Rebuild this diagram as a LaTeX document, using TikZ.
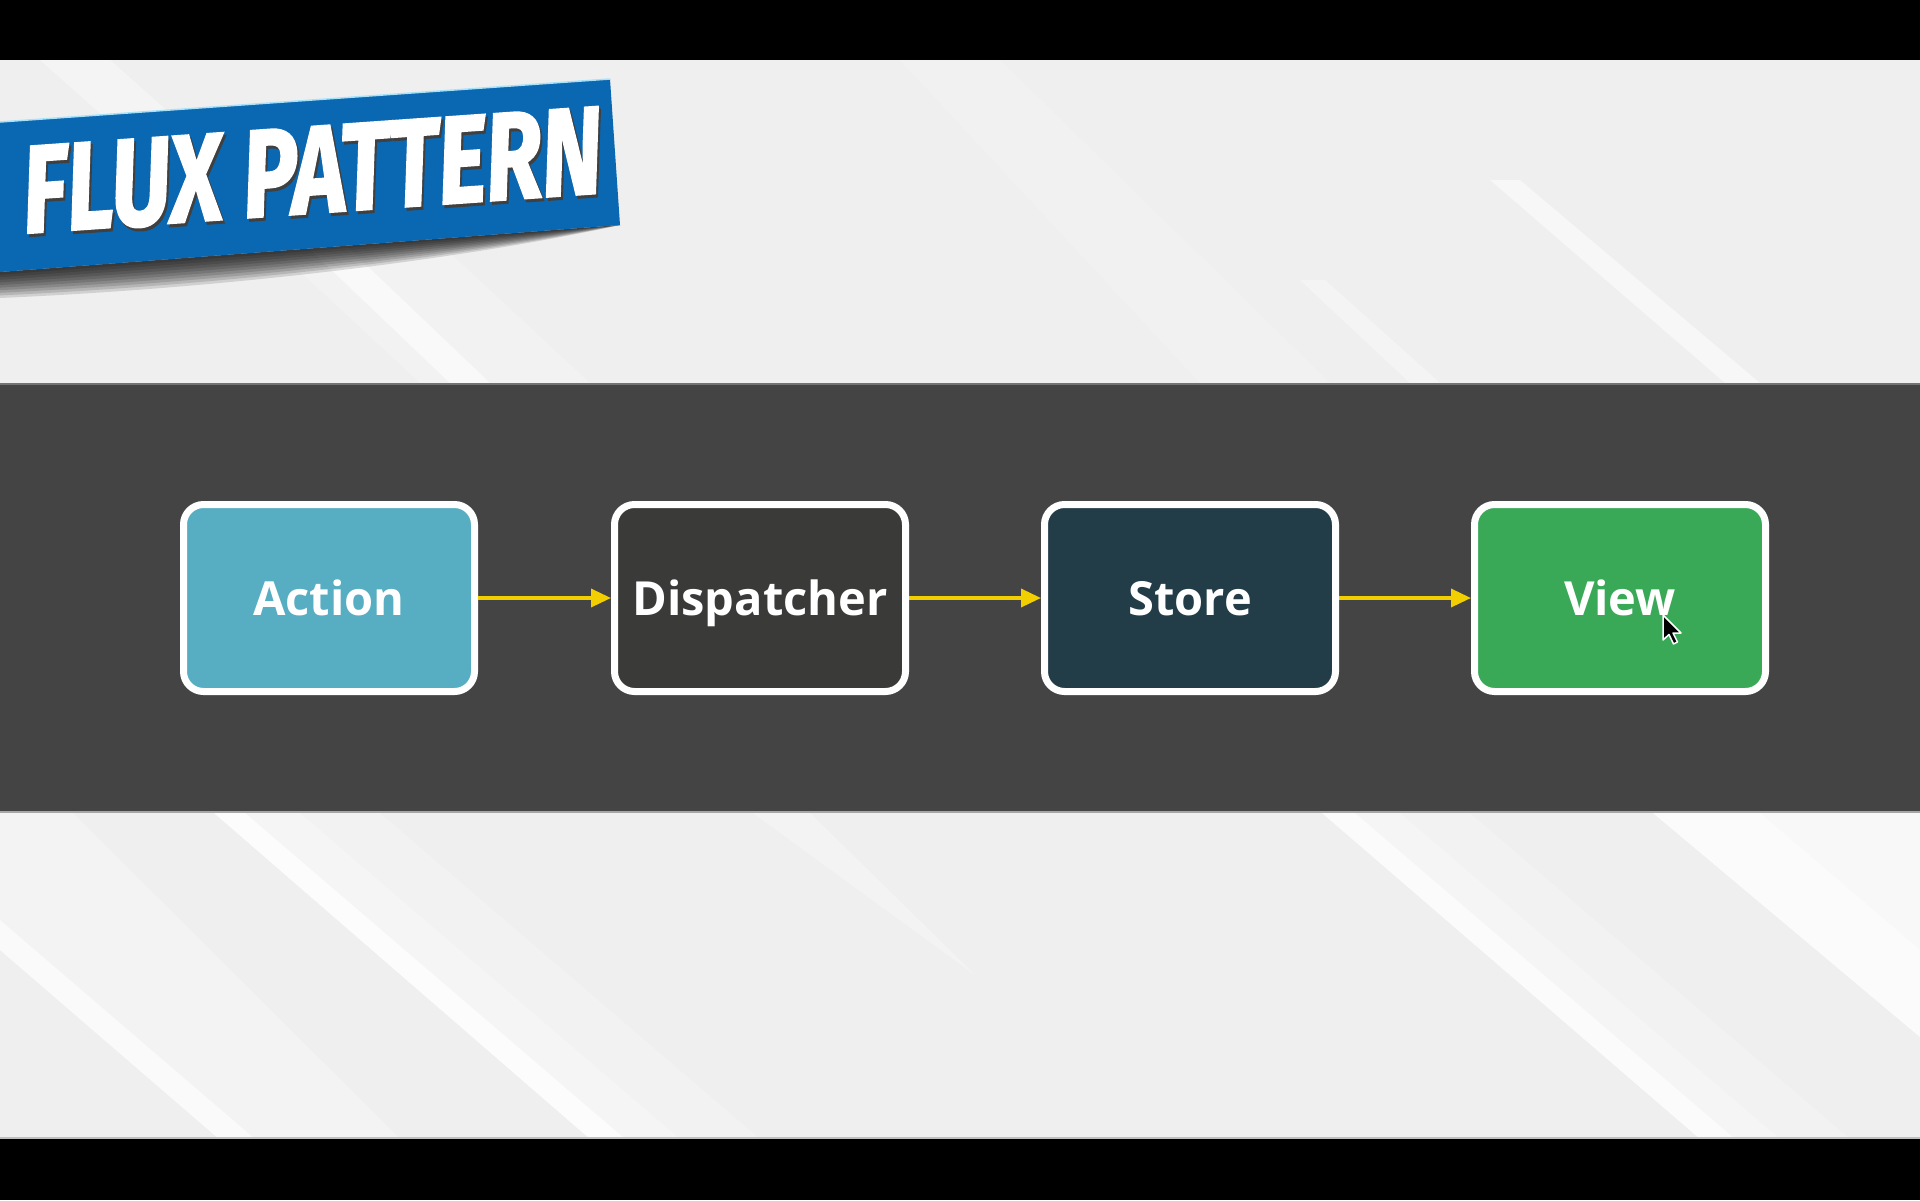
\documentclass[tikz,border=0pt]{standalone}
\usepackage{fontspec}
\usepackage{graphicx}
\usetikzlibrary{arrows.meta}
\newfontfamily\labelfont{Open Sans}
\newfontfamily\bannerfont{Fira Sans}[BoldItalicFeatures={FakeBold=2}]
\definecolor{pagebg}{HTML}{EFEFEF}
\definecolor{bandgray}{HTML}{444444}
\definecolor{bannerblue}{HTML}{0A67B1}
\definecolor{flowyellow}{HTML}{F2CF00}
\definecolor{actionfill}{HTML}{57ADC1}
\definecolor{dispatchfill}{HTML}{3A3A39}
\definecolor{storefill}{HTML}{223C48}
\definecolor{viewfill}{HTML}{39A958}
\tikzset{
  fluxbox/.style={draw=white, line width=7pt, rounded corners=20pt,
    minimum width=291pt, minimum height=187pt, inner sep=0pt,
    text=white, font=\labelfont\bfseries\fontsize{47pt}{50pt}\selectfont,
    text height=34pt, text depth=0pt},
  fluxarrow/.style={draw=flowyellow, line width=3.5pt,
    -{Triangle[length=20pt,width=18pt]}},
  streak/.style={fill=white, opacity=#1},
  titletext/.style={rotate=4, inner sep=0pt}
}
\newcommand{\fluxtitle}[1]{\resizebox{580pt}{86pt}{\bannerfont\bfseries\itshape\color{#1}FLUX PATTERN}}
\begin{document}
\begin{tikzpicture}[x=1pt,y=-1pt]
\useasboundingbox (0,0) rectangle (1920,1200);
% page background
\fill[pagebg] (0,60) rectangle (1920,1139);
% light streaks, upper part
\begin{scope}
  \clip (0,60) rectangle (1920,383);
  \fill[streak=0.35] (40,60) -- (110,60) -- (200,140) -- (130,140) -- cycle;
  \fill[streak=0.2] (250,225) -- (420,225) -- (590,383) -- (420,383) -- cycle;
  \fill[streak=0.6] (300,240) -- (340,240) -- (490,383) -- (450,383) -- cycle;
  \fill[streak=0.15] (900,60) -- (1000,60) -- (1330,383) -- (1200,383) -- cycle;
  \fill[streak=0.35] (1300,280) -- (1325,280) -- (1440,383) -- (1410,383) -- cycle;
  \fill[streak=0.5] (1490,180) -- (1520,180) -- (1760,383) -- (1725,383) -- cycle;
\end{scope}
% light streaks, lower part
\begin{scope}
  \clip (0,813) rectangle (1920,1139);
  \fill[streak=0.25] (0,813) -- (73,813) -- (400,1139) -- (219,1139) -- (0,950) -- cycle;
  \fill[streak=0.6] (0,920) -- (255,1139) -- (219,1139) -- (0,950) -- cycle;
  \fill[streak=0.2] (214,813) -- (380,813) -- (760,1139) -- (590,1139) -- cycle;
  \fill[streak=0.25] (214,813) -- (300,813) -- (680,1139) -- (590,1139) -- cycle;
  \fill[streak=0.7] (214,813) -- (245,813) -- (625,1139) -- (590,1139) -- cycle;
  \fill[streak=0.3] (753,813) -- (810,813) -- (975,975) -- cycle;
  \fill[streak=0.2] (1322,813) -- (1470,813) -- (1850,1139) -- (1700,1139) -- cycle;
  \fill[streak=0.25] (1322,813) -- (1400,813) -- (1780,1139) -- (1700,1139) -- cycle;
  \fill[streak=0.65] (1322,813) -- (1355,813) -- (1735,1139) -- (1700,1139) -- cycle;
  \fill[streak=0.6] (1653,813) -- (1920,813) -- (1920,1037) -- cycle;
  \fill[streak=0.5] (1653,813) -- (1760,813) -- (1920,950) -- (1920,1037) -- cycle;
\end{scope}
% letterbox bars
\fill[black] (0,0) rectangle (1920,60);
\fill[black] (0,1139) rectangle (1920,1200);
\draw[gray!50, line width=2pt] (0,1138) -- (1920,1138);
% dark band
\fill[bandgray] (0,383) rectangle (1920,813);
\draw[gray!90!black, line width=2pt] (0,384) -- (1920,384);
\draw[gray!70, line width=2pt] (0,812) -- (1920,812);
% ribbon shadow, built from nested translucent layers
\foreach \f in {0.1,0.2,...,1.0} {
  \fill[black, opacity=0.13] (0,272) -- (620,225)
    .. controls (480,{235.6+20*\f}) and (250,{253+34*\f}) .. (0,{272+26*\f}) -- cycle;
}
% ribbon
\fill[bannerblue] (0,122) -- (610,79) -- (620,225) -- (0,272) -- cycle;
\draw[cyan!35!white, line width=1.5pt] (0,122) -- (610,79);
\node[titletext] (titleshadow) at (314,174) {\fluxtitle{black!75}};
\node[titletext] (title) at (312,171) {\fluxtitle{white}};
% flux chain
\node[fluxbox, fill=actionfill] (action) at (329,598) {Action};
\node[fluxbox, fill=dispatchfill] (dispatcher) at (760,598) {Dispatcher};
\node[fluxbox, fill=storefill] (store) at (1190,598) {Store};
\node[fluxbox, fill=viewfill] (view) at (1620,598) {View};
\draw[fluxarrow] (action.east) -- (dispatcher.west);
\draw[fluxarrow] (dispatcher.east) -- (store.west);
\draw[fluxarrow] (store.east) -- (view.west);
% mouse pointer
\begin{scope}[shift={(1663,615)}]
  \filldraw[fill=black, draw=white, line width=1.5pt, line join=round]
    (0,0) -- (0,25) -- (6,19.5) -- (10.5,29) -- (14.5,27) -- (10,18) -- (18,18) -- cycle;
\end{scope}
\end{tikzpicture}
\end{document}
